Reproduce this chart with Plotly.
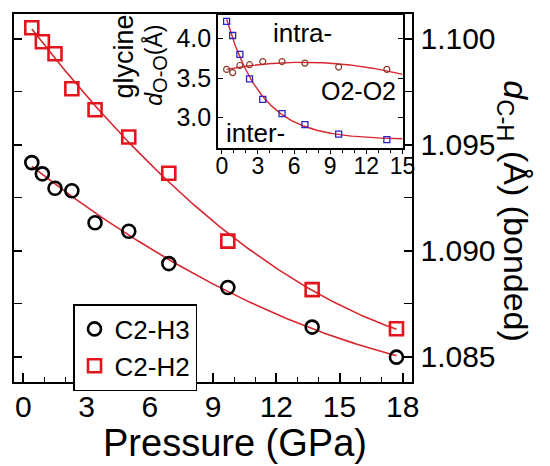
import numpy as np
import plotly.graph_objects as go

# Pressure points (GPa) shared by the main panel and the inset
pressure = [0.4, 0.9, 1.5, 2.3, 3.4, 5.0, 6.9, 9.7, 13.7, 17.7]

# Bonded C-H distances (Å)
c2_h3 = [1.09416, 1.09363, 1.09295, 1.09283, 1.09132, 1.09092, 1.08939, 1.08826, 1.08639, 1.08497]
c2_h2 = [1.10053, 1.09987, 1.09930, 1.09765, 1.09666, 1.09537, 1.09366, 1.09045, 1.08816, 1.08631]

# Inset: O2-O2 distances (Å) for glycine
inset_pressure = pressure[:9]
oo_inter = [4.22, 4.04, 3.80, 3.49, 3.23, 3.05, 2.91, 2.79, 2.72]
oo_intra = [3.61, 3.57, 3.66, 3.67, 3.71, 3.71, 3.69, 3.64, 3.61]

main_xticks = [0, 3, 6, 9, 12, 15, 18]
main_yticks = [1.085, 1.090, 1.095, 1.100]
inset_xticks = [0, 3, 6, 9, 12, 15]
inset_yticks = [3.0, 3.5, 4.0]

FONT = "Liberation Sans, Arial, sans-serif"
W, H = 550, 466
RED = "#e3141c"
FIT = "#d7262e"


def px_x(p):
    return p / W


def px_y(p):
    return 1 - p / H


# Smooth fits through the measured points
def poly_curve(x, y, deg, x0, x1):
    c = np.polyfit(x, y, deg)
    xs = np.linspace(x0, x1, 200)
    return xs, np.polyval(c, xs)


def exp_curve(x, y, x0, x1):
    x = np.asarray(x, float)
    y = np.asarray(y, float)
    best = None
    for tau in np.linspace(0.5, 12, 600):
        A = np.column_stack([np.ones_like(x), np.exp(-x / tau)])
        coef, *_ = np.linalg.lstsq(A, y, rcond=None)
        r = np.sum((A @ coef - y) ** 2)
        if best is None or r < best[0]:
            best = (r, tau, coef)
    _, tau, (a, b) = best
    xs = np.linspace(x0, x1, 200)
    return xs, a + b * np.exp(-xs / tau)


fig = go.Figure()

# Main panel fits
for ys in (c2_h3, c2_h2):
    xs, fy = poly_curve(pressure, ys, 2, pressure[0], pressure[-1])
    fig.add_trace(go.Scatter(x=xs, y=fy, mode="lines", line=dict(color=FIT, width=1.6),
                             showlegend=False, hoverinfo="skip", xaxis="x", yaxis="y"))

fig.add_trace(go.Scatter(
    x=pressure, y=c2_h3, mode="markers", name="C2-H3",
    marker=dict(symbol="circle-open", size=13, color="black", line=dict(width=2.6)),
    xaxis="x", yaxis="y"))
fig.add_trace(go.Scatter(
    x=pressure, y=c2_h2, mode="markers", name="C2-H2",
    marker=dict(symbol="square-open", size=13, color=RED, line=dict(width=2.6)),
    xaxis="x", yaxis="y"))

# Inset fits and points
xs, fy = exp_curve(inset_pressure, oo_inter, inset_pressure[0], 15)
fig.add_trace(go.Scatter(x=xs, y=fy, mode="lines", line=dict(color=FIT, width=1.4),
                         showlegend=False, xaxis="x2", yaxis="y2"))
xs, fy = poly_curve(inset_pressure, oo_intra, 2, inset_pressure[0], 15)
fig.add_trace(go.Scatter(x=xs, y=fy, mode="lines", line=dict(color=FIT, width=1.4),
                         showlegend=False, xaxis="x2", yaxis="y2"))
fig.add_trace(go.Scatter(
    x=inset_pressure, y=oo_inter, mode="markers", showlegend=False,
    marker=dict(symbol="square-open", size=6, color="#2a22c8", line=dict(width=1.3)),
    xaxis="x2", yaxis="y2"))
fig.add_trace(go.Scatter(
    x=inset_pressure, y=oo_intra, mode="markers", showlegend=False,
    marker=dict(symbol="circle-open", size=6, color="#8a3a2a", line=dict(width=1.2)),
    xaxis="x2", yaxis="y2"))

axis_common = dict(showline=True, linecolor="black", showgrid=False, zeroline=False,
                   tickcolor="black", ticks="inside")

fig.update_layout(
    width=W, height=H,
    margin=dict(l=0, r=0, t=0, b=0),
    paper_bgcolor="white", plot_bgcolor="white",
    font=dict(family=FONT, color="black"),
    xaxis=dict(**axis_common, domain=[px_x(12), px_x(422)], range=[-0.46, 18.46],
               tickvals=main_xticks, ticklen=9, tickwidth=1.5, linewidth=2,
               mirror=True, tickfont=dict(size=30), ticklabelstandoff=-3,
               minor=dict(dtick=1, tick0=0, ticklen=5, ticks="inside", tickcolor="black", tickwidth=1.3),
               anchor="y"),
    yaxis=dict(**axis_common, domain=[px_y(381.5), px_y(14)], range=[1.08382, 1.10118],
               side="right", tickvals=main_yticks, tickformat=".3f", ticklen=8, tickwidth=1.5,
               linewidth=2, mirror="ticks", tickfont=dict(size=30),
               minor=dict(dtick=0.0025, tick0=1.085, ticklen=8, ticks="inside", tickcolor="black", tickwidth=1.3),
               anchor="x"),
    xaxis2=dict(showline=True, linecolor="black", linewidth=1.5, showgrid=False, zeroline=False,
                domain=[px_x(222), px_x(412)], range=[-0.32, 15.02],
                tickvals=inset_xticks, ticks="outside", ticklen=4, tickcolor="black", tickwidth=1.2,
                mirror=True, tickfont=dict(size=23), ticklabelstandoff=-8,
                minor=dict(dtick=1, tick0=0, ticklen=3, ticks="outside", tickcolor="black", tickwidth=1),
                anchor="y2"),
    yaxis2=dict(showline=True, linecolor="black", linewidth=1.5, showgrid=False, zeroline=False,
                domain=[px_y(148.3), px_y(15)], range=[2.61, 4.30],
                tickvals=inset_yticks, tickformat=".1f", ticks="inside", ticklen=5,
                tickcolor="black", tickwidth=1.2, mirror="ticks", tickfont=dict(size=25),
                anchor="x2"),
    legend=dict(x=px_x(73), y=px_y(304), xanchor="left", yanchor="top",
                bgcolor="white", bordercolor="black", borderwidth=1.5,
                font=dict(size=26), tracegroupgap=0, itemwidth=30),
    showlegend=True,
)

annotations = [
    dict(text="Pressure (GPa)", x=px_x(240), y=px_y(443), font=dict(size=38)),
    dict(text="<i>d</i><sub>C-H</sub> (Å) (bonded)", x=px_x(525), y=px_y(211),
         textangle=90, font=dict(size=34)),
    dict(text="glycine", x=px_x(125), y=px_y(57), textangle=-90, font=dict(size=27)),
    dict(text="<i>d</i><sub><span style='font-size:20px'>O-O</span></sub>(Å)",
         x=px_x(157), y=px_y(65), textangle=-90, font=dict(size=23)),
    dict(text="intra-", x=px_x(309), y=px_y(33), font=dict(size=26)),
    dict(text="O2-O2", x=px_x(367), y=px_y(91), font=dict(size=25)),
    dict(text="inter-", x=px_x(261), y=px_y(133), font=dict(size=26)),
]
for a in annotations:
    fig.add_annotation(xref="paper", yref="paper", showarrow=False,
                       xanchor="center", yanchor="middle", **a)

fig.write_html("out.html")
